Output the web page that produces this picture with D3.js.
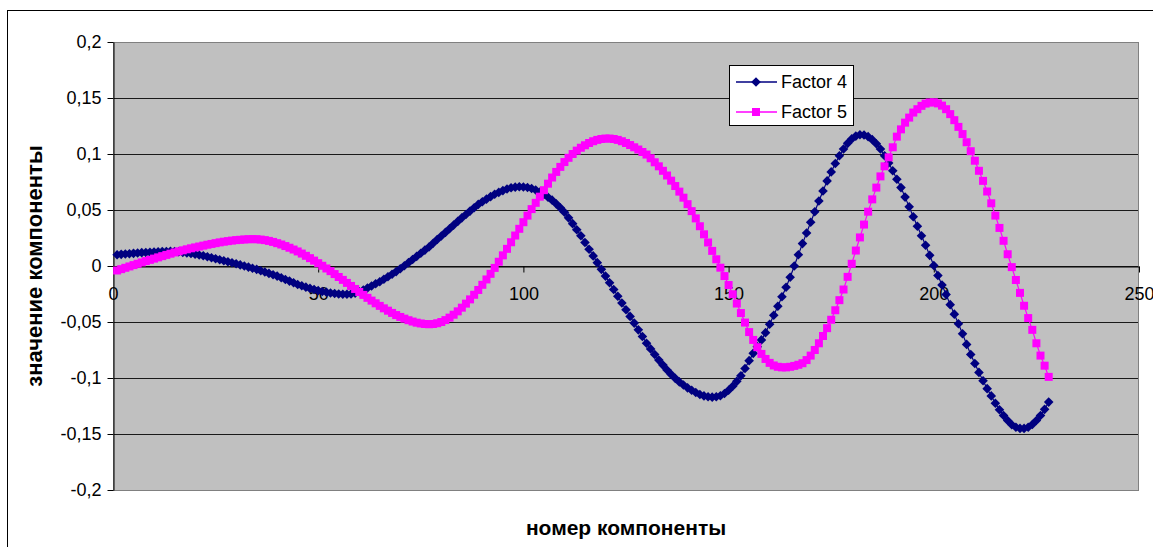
<!DOCTYPE html>
<html>
<head>
<meta charset="utf-8">
<script src="https://cdn.jsdelivr.net/npm/d3@7"></script>
<style>
  html, body { margin: 0; padding: 0; background: #fff; }
  svg { display: block; }
  text { font-family: "Liberation Sans", Arial, sans-serif; fill: #000; }
</style>
</head>
<body>
<svg id="chart" width="1153" height="547"></svg>
<script>
// Loadings of factor 4 and factor 5 across component numbers 1..228
const factor4 = [
  0.0100, 0.0104, 0.0107, 0.0110, 0.0113, 0.0116, 0.0119, 0.0121, 0.0123, 0.0125,
  0.0127, 0.0129, 0.0130, 0.0131, 0.0130, 0.0127, 0.0122, 0.0117, 0.0111, 0.0105,
  0.0098, 0.0091, 0.0083, 0.0074, 0.0065, 0.0056, 0.0047, 0.0038, 0.0029, 0.0020,
  0.0010, 0.0000, -0.0010, -0.0020, -0.0030, -0.0042, -0.0054, -0.0066, -0.0078, -0.0090,
  -0.0105, -0.0120, -0.0135, -0.0150, -0.0165, -0.0177, -0.0189, -0.0200, -0.0210, -0.0220,
  -0.0228, -0.0235, -0.0241, -0.0246, -0.0250, -0.0252, -0.0252, -0.0250, -0.0242, -0.0230,
  -0.0215, -0.0197, -0.0178, -0.0159, -0.0140, -0.0118, -0.0096, -0.0073, -0.0050, -0.0024,
  0.0002, 0.0030, 0.0058, 0.0086, 0.0114, 0.0142, 0.0170, 0.0203, 0.0236, 0.0268,
  0.0300, 0.0333, 0.0365, 0.0398, 0.0430, 0.0460, 0.0490, 0.0520, 0.0550, 0.0574,
  0.0597, 0.0619, 0.0640, 0.0657, 0.0673, 0.0687, 0.0698, 0.0704, 0.0707, 0.0706,
  0.0701, 0.0692, 0.0678, 0.0660, 0.0638, 0.0614, 0.0588, 0.0555, 0.0519, 0.0480,
  0.0430, 0.0378, 0.0324, 0.0270, 0.0210, 0.0150, 0.0090, 0.0030, -0.0030, -0.0090,
  -0.0150, -0.0210, -0.0270, -0.0330, -0.0390, -0.0450, -0.0510, -0.0570, -0.0630, -0.0690,
  -0.0740, -0.0790, -0.0840, -0.0885, -0.0928, -0.0968, -0.1003, -0.1035, -0.1063, -0.1088,
  -0.1110, -0.1130, -0.1147, -0.1160, -0.1168, -0.1171, -0.1168, -0.1158, -0.1138, -0.1110,
  -0.1073, -0.1030, -0.0980, -0.0915, -0.0845, -0.0780, -0.0720, -0.0660, -0.0595, -0.0520,
  -0.0440, -0.0360, -0.0275, -0.0190, -0.0100, 0.0000, 0.0100, 0.0200, 0.0295, 0.0390,
  0.0485, 0.0580, 0.0670, 0.0760, 0.0840, 0.0915, 0.0985, 0.1045, 0.1095, 0.1135,
  0.1160, 0.1172, 0.1170, 0.1155, 0.1128, 0.1092, 0.1045, 0.0985, 0.0920, 0.0850,
  0.0775, 0.0700, 0.0615, 0.0528, 0.0440, 0.0355, 0.0270, 0.0185, 0.0095, 0.0005,
  -0.0085, -0.0170, -0.0255, -0.0345, -0.0430, -0.0515, -0.0605, -0.0700, -0.0790, -0.0870,
  -0.0950, -0.1025, -0.1095, -0.1160, -0.1225, -0.1283, -0.1335, -0.1380, -0.1418, -0.1440,
  -0.1450, -0.1450, -0.1440, -0.1415, -0.1380, -0.1335, -0.1280, -0.1215
];

const factor5 = [
  -0.0040, -0.0028, -0.0016, -0.0004, 0.0008, 0.0020, 0.0032, 0.0044, 0.0055, 0.0066,
  0.0077, 0.0088, 0.0099, 0.0110, 0.0121, 0.0131, 0.0140, 0.0149, 0.0158, 0.0166,
  0.0174, 0.0182, 0.0190, 0.0197, 0.0204, 0.0211, 0.0217, 0.0222, 0.0227, 0.0231,
  0.0234, 0.0237, 0.0239, 0.0240, 0.0239, 0.0236, 0.0231, 0.0224, 0.0215, 0.0204,
  0.0192, 0.0178, 0.0163, 0.0147, 0.0130, 0.0111, 0.0091, 0.0070, 0.0048, 0.0025,
  0.0002, -0.0022, -0.0046, -0.0072, -0.0098, -0.0124, -0.0151, -0.0178, -0.0205, -0.0232,
  -0.0258, -0.0284, -0.0309, -0.0333, -0.0356, -0.0378, -0.0399, -0.0419, -0.0438, -0.0455,
  -0.0470, -0.0484, -0.0496, -0.0506, -0.0513, -0.0518, -0.0520, -0.0518, -0.0511, -0.0500,
  -0.0483, -0.0461, -0.0435, -0.0405, -0.0372, -0.0336, -0.0298, -0.0257, -0.0214, -0.0168,
  -0.0120, -0.0070, -0.0017, 0.0038, 0.0095, 0.0153, 0.0212, 0.0272, 0.0332, 0.0391,
  0.0450, 0.0508, 0.0564, 0.0619, 0.0677, 0.0735, 0.0790, 0.0840, 0.0885, 0.0928,
  0.0966, 0.1000, 0.1030, 0.1056, 0.1078, 0.1098, 0.1114, 0.1126, 0.1134, 0.1138,
  0.1138, 0.1134, 0.1126, 0.1114, 0.1098, 0.1080, 0.1060, 0.1040, 0.1018, 0.0995,
  0.0962, 0.0926, 0.0890, 0.0850, 0.0808, 0.0762, 0.0714, 0.0664, 0.0610, 0.0552,
  0.0490, 0.0425, 0.0355, 0.0283, 0.0210, 0.0135, 0.0060, -0.0015, -0.0090, -0.0170,
  -0.0252, -0.0335, -0.0420, -0.0505, -0.0590, -0.0660, -0.0725, -0.0785, -0.0830, -0.0865,
  -0.0888, -0.0900, -0.0905, -0.0905, -0.0900, -0.0892, -0.0882, -0.0868, -0.0840, -0.0800,
  -0.0750, -0.0690, -0.0625, -0.0555, -0.0480, -0.0395, -0.0305, -0.0210, -0.0097, 0.0020,
  0.0138, 0.0255, 0.0370, 0.0485, 0.0595, 0.0700, 0.0800, 0.0890, 0.0970, 0.1060,
  0.1155, 0.1220, 0.1280, 0.1325, 0.1370, 0.1400, 0.1430, 0.1450, 0.1460, 0.1462,
  0.1452, 0.1432, 0.1400, 0.1356, 0.1302, 0.1242, 0.1178, 0.1105, 0.1025, 0.0940,
  0.0850, 0.0760, 0.0665, 0.0560, 0.0450, 0.0340, 0.0225, 0.0105, -0.0010, -0.0125,
  -0.0240, -0.0355, -0.0465, -0.0570, -0.0690, -0.0800, -0.0890, -0.0990
];

const seriesNames = ["Factor 4", "Factor 5"];
const xTickValues = [0, 50, 100, 150, 200, 250];
const xTickLabels = ["0", "50", "100", "150", "200", "250"];
const yTickValues = [-0.2, -0.15, -0.1, -0.05, 0, 0.05, 0.1, 0.15, 0.2];
const yTickLabels = ["-0,2", "-0,15", "-0,1", "-0,05", "0", "0,05", "0,1", "0,15", "0,2"];
const xTitle = "номер компоненты";
const yTitle = "значение компоненты";

const svg = d3.select("#chart");
const plot = { left: 113, right: 1139, top: 42, bottom: 490 };

const x = d3.scaleLinear().domain([0, 250]).range([plot.left, plot.right]);
const y = d3.scaleLinear().domain([-0.2, 0.2]).range([plot.bottom, plot.top]);

// Chart area frame
svg.append("rect")
  .attr("x", 7.5).attr("y", 10.5)
  .attr("width", 1300).attr("height", 700)
  .attr("fill", "#fff").attr("stroke", "#000").attr("stroke-width", 1);

// Plot area
svg.append("rect")
  .attr("x", plot.left).attr("y", plot.top)
  .attr("width", plot.right - plot.left).attr("height", plot.bottom - plot.top)
  .attr("fill", "#c0c0c0");

// Horizontal gridlines
svg.append("g")
  .selectAll("line")
  .data(yTickValues.filter(v => v !== -0.2 && v !== 0.2))
  .join("line")
  .attr("x1", plot.left).attr("x2", plot.right)
  .attr("y1", d => Math.round(y(d)) + 0.5).attr("y2", d => Math.round(y(d)) + 0.5)
  .attr("stroke", "#1a1a1a").attr("stroke-width", 1);

// Plot area border
svg.append("rect")
  .attr("x", plot.left + 0.5).attr("y", plot.top + 0.5)
  .attr("width", plot.right - plot.left - 1).attr("height", plot.bottom - plot.top)
  .attr("fill", "none").attr("stroke", "#808080").attr("stroke-width", 1);

// Y axis
const yAxis = d3.axisLeft(y)
  .tickValues(yTickValues)
  .tickFormat((d, i) => yTickLabels[i])
  .tickSize(6).tickSizeOuter(0).tickPadding(6);
const gy = svg.append("g")
  .attr("transform", `translate(${plot.left + 0.5},0)`)
  .call(yAxis);
gy.selectAll("text").attr("font-size", 18).attr("font-family", "Liberation Sans, Arial, sans-serif");
gy.selectAll("line").attr("stroke", "#000");
gy.select(".domain").attr("stroke", "#000");

// X axis crossing at zero
const xAxis = d3.axisBottom(x)
  .tickValues(xTickValues)
  .tickFormat((d, i) => xTickLabels[i])
  .tickSize(6).tickSizeOuter(0).tickPadding(15);
const gx = svg.append("g")
  .attr("transform", `translate(0,${Math.round(y(0)) + 0.5})`)
  .call(xAxis);
gx.selectAll("text").attr("font-size", 18).attr("font-family", "Liberation Sans, Arial, sans-serif");
gx.selectAll("line").attr("stroke", "#000");
gx.select(".domain").attr("stroke", "#000");

// Markers
const diamondPath = "M0,-4.8L4.8,0L0,4.8L-4.8,0Z";
const squarePath = "M-4,-4H4V4H-4Z";

const styles = [
  { color: "#000080", marker: diamondPath },
  { color: "#ff00ff", marker: squarePath }
];

const line = d3.line().x(d => x(d[0])).y(d => y(d[1]));

[factor4, factor5].forEach((vals, s) => {
  const pts = vals.map((v, i) => [i + 1, v]);
  const g = svg.append("g");
  g.append("path")
    .datum(pts)
    .attr("d", line)
    .attr("fill", "none")
    .attr("stroke", styles[s].color)
    .attr("stroke-width", 1.2);
  g.selectAll("path.m")
    .data(pts)
    .join("path")
    .attr("class", "m")
    .attr("d", styles[s].marker)
    .attr("transform", d => `translate(${x(d[0])},${y(d[1])})`)
    .attr("fill", styles[s].color);
});

// Legend
const legend = svg.append("g");
legend.append("rect")
  .attr("x", 729.5).attr("y", 65.5)
  .attr("width", 124).attr("height", 60)
  .attr("fill", "#fff").attr("stroke", "#000").attr("stroke-width", 1);
const rowsY = [82, 112];
seriesNames.forEach((name, s) => {
  const row = legend.append("g").attr("transform", `translate(0,${rowsY[s]})`);
  row.append("line")
    .attr("x1", 736).attr("x2", 777).attr("y1", 0).attr("y2", 0)
    .attr("stroke", styles[s].color).attr("stroke-width", 1.5);
  row.append("path")
    .attr("d", styles[s].marker)
    .attr("transform", "translate(756,0)")
    .attr("fill", styles[s].color);
  row.append("text")
    .attr("x", 781).attr("y", 0).attr("dy", "0.35em")
    .attr("font-size", 18)
    .text(name);
});

// Axis titles
svg.append("text")
  .attr("x", (plot.left + plot.right) / 2)
  .attr("y", 535)
  .attr("text-anchor", "middle")
  .attr("font-size", 21).attr("font-weight", "bold")
  .text(xTitle);

svg.append("text")
  .attr("transform", `translate(42,${(plot.top + plot.bottom) / 2}) rotate(-90)`)
  .attr("text-anchor", "middle")
  .attr("font-size", 22).attr("font-weight", "bold")
  .text(yTitle);
</script>
</body>
</html>
